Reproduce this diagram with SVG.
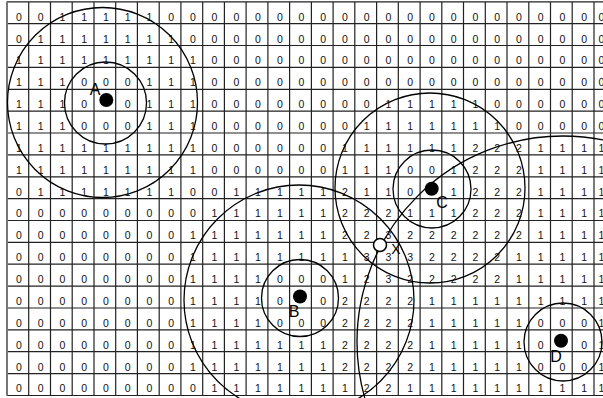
<svg xmlns="http://www.w3.org/2000/svg" width="603" height="398" viewBox="0 0 603 398">
<style>
.grid{fill:none;stroke:#222;stroke-width:1.2}
.num{font-family:"Liberation Sans",Arial,sans-serif;font-size:10.5px;fill:#111;text-anchor:middle;white-space:pre}
.ring{fill:none;stroke:#000;stroke-width:1.3}
.blob{fill:#000}
.lbl{font-family:"Liberation Sans",Arial,sans-serif;font-size:16px;fill:#000;text-anchor:middle}
</style>
<rect width="603" height="398" fill="#fff"/>
<g id="grid">
<path class="grid" d="M7 1.8H603M7 23.7H603M7 45.5H603M7 67.4H603M7 89.3H603M7 111.2H603M7 133H603M7 154.9H603M7 176.8H603M7 198.6H603M7 220.5H603M7 242.4H603M7 264.2H603M7 286.1H603M7 308H603M7 329.9H603M7 351.7H603M7 373.6H603M7 395.5H603M7 1.8V395.5M28.7 1.8V395.5M50.5 1.8V395.5M72.2 1.8V395.5M94 1.8V395.5M115.7 1.8V395.5M137.4 1.8V395.5M159.2 1.8V395.5M180.9 1.8V395.5M202.7 1.8V395.5M224.4 1.8V395.5M246.1 1.8V395.5M267.9 1.8V395.5M289.6 1.8V395.5M311.4 1.8V395.5M333.1 1.8V395.5M354.8 1.8V395.5M376.6 1.8V395.5M398.3 1.8V395.5M420.1 1.8V395.5M441.8 1.8V395.5M463.5 1.8V395.5M485.3 1.8V395.5M507 1.8V395.5M528.8 1.8V395.5M550.5 1.8V395.5M572.2 1.8V395.5M594 1.8V395.5"/>
<path d="M7 1.8V395.5" stroke="#777" stroke-width="2" fill="none"/>
</g>
<g id="values" class="num">
<text x="18.9 40.6 62.4 84.1 105.8 127.6 149.3 171.1 192.8 214.5 236.3 258 279.8 301.5 323.2 345 366.7 388.5 410.2 431.9 453.7 475.4 497.2 518.9 540.6 562.4 584.1 601.5" y="20.6">0011111000000000000000000000</text>
<text x="18.9 40.6 62.4 84.1 105.8 127.6 149.3 171.1 192.8 214.5 236.3 258 279.8 301.5 323.2 345 366.7 388.5 410.2 431.9 453.7 475.4 497.2 518.9 540.6 562.4 584.1 601.5" y="42.5">0111111100000000000000000000</text>
<text x="18.9 40.6 62.4 84.1 105.8 127.6 149.3 171.1 192.8 214.5 236.3 258 279.8 301.5 323.2 345 366.7 388.5 410.2 431.9 453.7 475.4 497.2 518.9 540.6 562.4 584.1 601.5" y="64.3">1111111110000000000000000000</text>
<text x="18.9 40.6 62.4 84.1 105.8 127.6 149.3 171.1 192.8 214.5 236.3 258 279.8 301.5 323.2 345 366.7 388.5 410.2 431.9 453.7 475.4 497.2 518.9 540.6 562.4 584.1 601.5" y="86.2">1110001110000000000000000000</text>
<text x="18.9 40.6 62.4 84.1 105.8 127.6 149.3 171.1 192.8 214.5 236.3 258 279.8 301.5 323.2 345 366.7 388.5 410.2 431.9 453.7 475.4 497.2 518.9 540.6 562.4 584.1 601.5" y="108.1">1110 01110000000011111000000</text>
<text x="18.9 40.6 62.4 84.1 105.8 127.6 149.3 171.1 192.8 214.5 236.3 258 279.8 301.5 323.2 345 366.7 388.5 410.2 431.9 453.7 475.4 497.2 518.9 540.6 562.4 584.1 601.5" y="129.9">1110001110000000111111100000</text>
<text x="18.9 40.6 62.4 84.1 105.8 127.6 149.3 171.1 192.8 214.5 236.3 258 279.8 301.5 323.2 345 366.7 388.5 410.2 431.9 453.7 475.4 497.2 518.9 540.6 562.4 584.1 601.5" y="151.8">1111111110000001111112221111</text>
<text x="18.9 40.6 62.4 84.1 105.8 127.6 149.3 171.1 192.8 214.5 236.3 258 279.8 301.5 323.2 345 366.7 388.5 410.2 431.9 453.7 475.4 497.2 518.9 540.6 562.4 584.1 601.5" y="173.7">1111111110000001110012221111</text>
<text x="18.9 40.6 62.4 84.1 105.8 127.6 149.3 171.1 192.8 214.5 236.3 258 279.8 301.5 323.2 345 366.7 388.5 410.2 431.9 453.7 475.4 497.2 518.9 540.6 562.4 584.1 601.5" y="195.6">0111111100111112110 12221111</text>
<text x="18.9 40.6 62.4 84.1 105.8 127.6 149.3 171.1 192.8 214.5 236.3 258 279.8 301.5 323.2 345 366.7 388.5 410.2 431.9 453.7 475.4 497.2 518.9 540.6 562.4 584.1 601.5" y="217.4">0000000001111112221112221111</text>
<text x="18.9 40.6 62.4 84.1 105.8 127.6 149.3 171.1 192.8 214.5 236.3 258 279.8 301.5 323.2 345 366.7 388.5 410.2 431.9 453.7 475.4 497.2 518.9 540.6 562.4 584.1 601.5" y="239.3">0000000011111112232222221111</text>
<text x="18.9 40.6 62.4 84.1 105.8 127.6 149.3 171.1 192.8 214.5 236.3 258 279.8 301.5 323.2 345 366.7 388.5 410.2 431.9 453.7 475.4 497.2 518.9 540.6 562.4 584.1 601.5" y="261.2">0000000011111111333222211111</text>
<text x="18.9 40.6 62.4 84.1 105.8 127.6 149.3 171.1 192.8 214.5 236.3 258 279.8 301.5 323.2 345 366.7 388.5 410.2 431.9 453.7 475.4 497.2 518.9 540.6 562.4 584.1 601.5" y="283">0000000011110001232222211111</text>
<text x="18.9 40.6 62.4 84.1 105.8 127.6 149.3 171.1 192.8 214.5 236.3 258 279.8 301.5 323.2 345 366.7 388.5 410.2 431.9 453.7 475.4 497.2 518.9 540.6 562.4 584.1 601.5" y="304.9">0000000011110 02222111111111</text>
<text x="18.9 40.6 62.4 84.1 105.8 127.6 149.3 171.1 192.8 214.5 236.3 258 279.8 301.5 323.2 345 366.7 388.5 410.2 431.9 453.7 475.4 497.2 518.9 540.6 562.4 584.1 601.5" y="326.8">0000000011110002222111110001</text>
<text x="18.9 40.6 62.4 84.1 105.8 127.6 149.3 171.1 192.8 214.5 236.3 258 279.8 301.5 323.2 345 366.7 388.5 410.2 431.9 453.7 475.4 497.2 518.9 540.6 562.4 584.1 601.5" y="348.7">0000000011111112222111110 01</text>
<text x="18.9 40.6 62.4 84.1 105.8 127.6 149.3 171.1 192.8 214.5 236.3 258 279.8 301.5 323.2 345 366.7 388.5 410.2 431.9 453.7 475.4 497.2 518.9 540.6 562.4 584.1 601.5" y="370.5">0000000011111112222111110001</text>
<text x="18.9 40.6 62.4 84.1 105.8 127.6 149.3 171.1 192.8 214.5 236.3 258 279.8 301.5 323.2 345 366.7 388.5 410.2 431.9 453.7 475.4 497.2 518.9 540.6 562.4 584.1 601.5" y="392.4">0000000001111111221111111111</text>
</g>
<g id="circles">
<circle class="ring" cx="102.5" cy="102.5" r="95"/>
<circle class="ring" cx="105.5" cy="103" r="41"/>
<circle class="ring" cx="299" cy="300" r="115"/>
<circle class="ring" cx="300" cy="298" r="38.5"/>
<circle class="ring" cx="430" cy="188" r="95"/>
<circle class="ring" cx="432" cy="189" r="39"/>
<circle class="ring" cx="563" cy="342" r="206"/>
<circle class="ring" cx="563" cy="342" r="39"/>
</g>
<g id="node-A"><circle class="blob" cx="106.3" cy="100" r="7"/><text class="lbl" x="95" y="95">A</text></g>
<g id="node-B"><circle class="blob" cx="300" cy="296.5" r="7"/><text class="lbl" x="294" y="316.7">B</text></g>
<g id="node-C"><circle class="blob" cx="431.7" cy="188.7" r="7"/><text class="lbl" x="442" y="208">C</text></g>
<g id="node-D"><circle class="blob" cx="561" cy="340.7" r="7"/><text class="lbl" x="556" y="362.3">D</text></g>
<g id="node-X"><circle cx="380" cy="245" r="6.5" fill="#fff" stroke="#000" stroke-width="1.5"/><text class="lbl" x="396" y="253.7" style="font-size:14px">X</text></g>
</svg>
